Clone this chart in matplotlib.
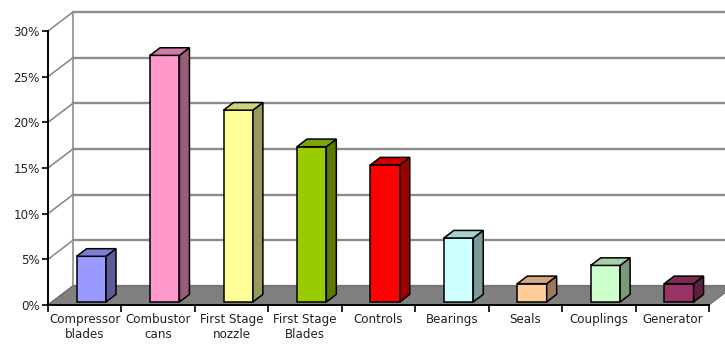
import numpy as np
import matplotlib.pyplot as plt
from matplotlib.patches import Polygon
from matplotlib.colors import to_rgb

categories = ["Compressor\nblades", "Combustor\ncans", "First Stage\nnozzle",
              "First Stage\nBlades", "Controls", "Bearings", "Seals",
              "Couplings", "Generator"]
values = [5, 27, 21, 17, 15, 7, 2, 4, 2]
colors = ["#9999FF", "#FF99CC", "#FFFF99", "#99CC00", "#FF0000",
          "#CCFFFF", "#FFCC99", "#CCFFCC", "#993366"]
yticks = [0, 5, 10, 15, 20, 25, 30]

# oblique depth offset (x in category units, y in percent)
dx, dy = 0.34, 2.08
z0, z1 = 0.16, 0.56
bw = 0.4
n = len(values)

fig = plt.figure(figsize=(7.25, 3.45), dpi=100)
ax = fig.add_axes([48 / 725, 40 / 345, 661 / 725, 274 / 345])
ax.set_xlim(0, n)
ax.set_ylim(0, 30)
ax.patch.set_visible(False)

grid_c = "#8c8c8c"
# back wall and side wall gridlines
for v in yticks:
    ax.plot([dx, n + dx], [v + dy, v + dy], color=grid_c, lw=1.7, clip_on=False, zorder=1)
    ax.plot([0, dx], [v, v + dy], color=grid_c, lw=1.2, clip_on=False, zorder=1)
ax.plot([dx, dx], [dy, 30 + dy], color=grid_c, lw=1.2, clip_on=False, zorder=1)

# floor
ax.add_patch(Polygon([(0, 0), (n, 0), (n + dx, dy), (dx, dy)], closed=True,
                     facecolor="#808080", edgecolor="#6a6a6a", lw=0.8,
                     clip_on=False, zorder=2))

# bars
for i, (v, c) in enumerate(zip(values, colors)):
    rgb = np.array(to_rgb(c))
    side = tuple(rgb * 0.6)
    top = tuple(rgb * 0.82)
    xl = i + 0.59 - bw / 2
    xr = xl + bw
    yb = z0 * dy
    yt = v + z0 * dy
    ox, oy = (z1 - z0) * dx, (z1 - z0) * dy
    kw = dict(closed=True, edgecolor="black", lw=1.1, clip_on=False, zorder=3)
    ax.add_patch(Polygon([(xl, yb), (xr, yb), (xr, yt), (xl, yt)], facecolor=c, **kw))
    ax.add_patch(Polygon([(xr, yb), (xr + ox, yb + oy), (xr + ox, yt + oy), (xr, yt)],
                         facecolor=side, **kw))
    ax.add_patch(Polygon([(xl, yt), (xr, yt), (xr + ox, yt + oy), (xl + ox, yt + oy)],
                         facecolor=top, **kw))

# axes
for s in ["top", "right"]:
    ax.spines[s].set_visible(False)
for s in ["left", "bottom"]:
    ax.spines[s].set_color("black")
    ax.spines[s].set_linewidth(1.4)
    ax.spines[s].set_zorder(4)

ax.set_yticks(yticks)
ax.set_yticklabels([f"{v}%" for v in yticks])
ax.tick_params(axis="y", length=4, width=1.2, pad=2, labelsize=8.6, labelcolor="#222222")

ax.set_xticks(np.arange(n + 1))
ax.set_xticklabels([])
ax.set_xticks(np.arange(n) + 0.5, minor=True)
ax.set_xticklabels(categories, minor=True, linespacing=1.2)
ax.tick_params(axis="x", which="major", length=5, width=1.2)
ax.tick_params(axis="x", which="minor", length=0, pad=6, labelsize=8.6, labelcolor="#222222")

fig.savefig("out.png", dpi=100)
